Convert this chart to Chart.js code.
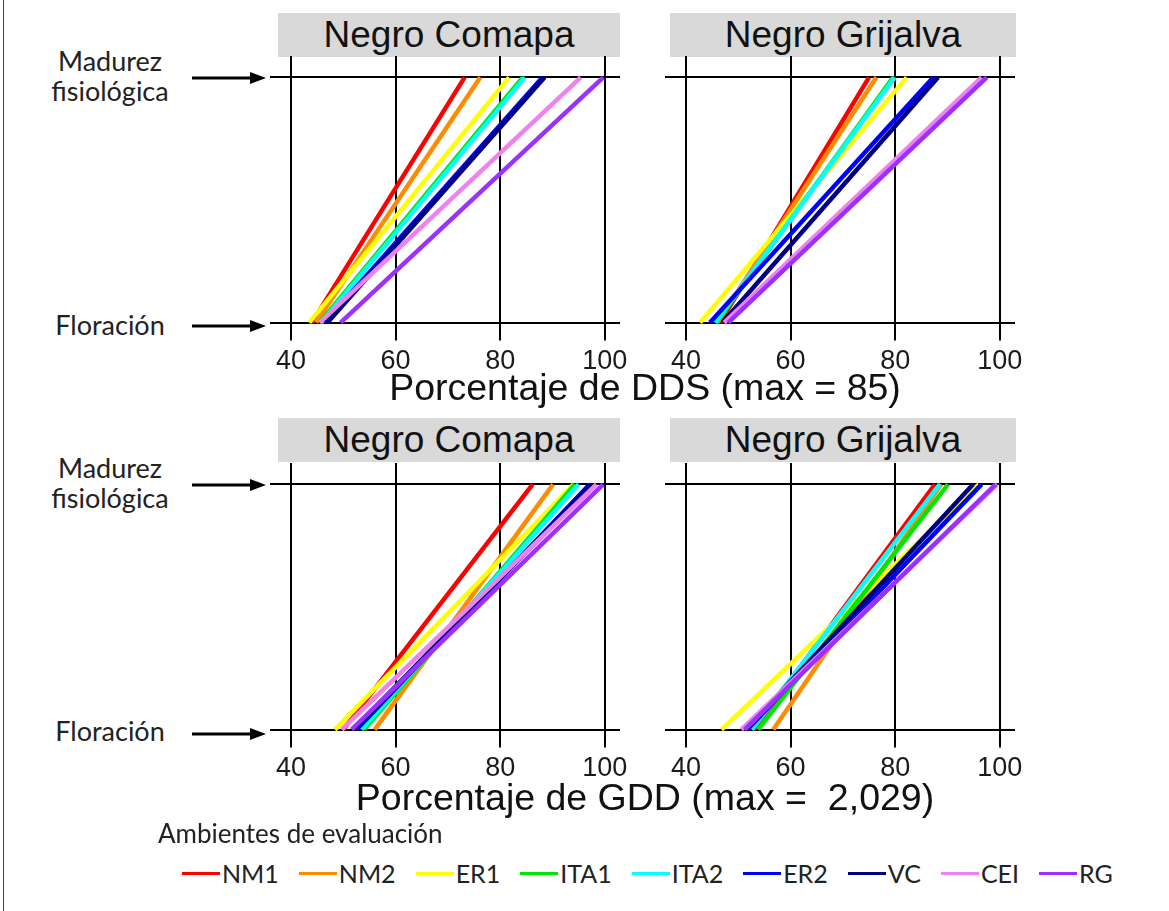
<!DOCTYPE html>
<html>
<head>
<meta charset="utf-8">
<script src="https://cdn.jsdelivr.net/npm/chart.js@4.4.1/dist/chart.umd.min.js"></script>
<style>
body { margin: 0; background: #fff; width: 1169px; height: 911px; position: relative; overflow: hidden; font-family: "Liberation Sans", Arial, sans-serif; color: #111; }
.frame { position: absolute; left: 3px; top: 0; width: 1px; height: 911px; background: #444; }
.strip { position: absolute; background: #d9d9d9; height: 44px; line-height: 44px; font-size: 37px; text-align: center; }
.stage { position: absolute; left: 40px; width: 140px; text-align: center; font-family: Lato, "Open Sans", sans-serif; font-size: 27px; line-height: 30px; color: #222; }
.xtitle { position: absolute; left: 0; width: 1290px; text-align: center; font-size: 37.5px; line-height: 40px; }
canvas { position: absolute; }
#legendTitle { position: absolute; left: 158px; top: 817px; font-family: Lato, "Open Sans", sans-serif; font-size: 26px; color: #222; }
#legend { position: absolute; left: 182px; top: 857px; display: flex; font-family: Lato, "Open Sans", sans-serif; font-size: 25px; color: #222; line-height: 32px; }
#legend .item { display: flex; align-items: center; margin-right: 20px; }
#legend .swatch { width: 38px; height: 3px; margin-right: 2px; }
</style>
</head>
<body>
<div class="frame"></div>

<div class="strip" style="left:278px;top:13px;width:342px">Negro Comapa</div>
<div class="strip" style="left:670px;top:13px;width:346px">Negro Grijalva</div>
<div class="strip" style="left:278px;top:418px;width:342px">Negro Comapa</div>
<div class="strip" style="left:670px;top:418px;width:346px">Negro Grijalva</div>

<div class="stage" style="top:46px">Madurez<br>fisiológica</div>
<div class="stage" style="top:310px">Floración</div>
<div class="stage" style="top:453px">Madurez<br>fisiológica</div>
<div class="stage" style="top:716px">Floración</div>

<svg width="1169" height="911" style="position:absolute;left:0;top:0">
  <g stroke="#000" stroke-width="3">
    <line x1="192" y1="78" x2="252" y2="78"/>
    <line x1="192" y1="326" x2="252" y2="326"/>
    <line x1="192" y1="485" x2="252" y2="485"/>
    <line x1="192" y1="734" x2="252" y2="734"/>
  </g>
  <g fill="#000">
    <polygon points="250,72 266,78 250,84"/>
    <polygon points="250,320 266,326 250,332"/>
    <polygon points="250,479 266,485 250,491"/>
    <polygon points="250,728 266,734 250,740"/>
  </g>
</svg>

<canvas id="c1" width="390" height="327" style="left:250px;top:56px"></canvas>
<canvas id="c2" width="390" height="327" style="left:645px;top:56px"></canvas>
<canvas id="c3" width="390" height="327" style="left:250px;top:463px"></canvas>
<canvas id="c4" width="390" height="327" style="left:645px;top:463px"></canvas>

<div class="xtitle" style="top:367px">Porcentaje de DDS (max = 85)</div>
<div class="xtitle" style="top:777px">Porcentaje de GDD (max =&nbsp; 2,029)</div>

<div id="legendTitle">Ambientes de evaluación</div>
<div id="legend"></div>

<script>
const envNames = ['NM1', 'NM2', 'ER1', 'ITA1', 'ITA2', 'ER2', 'VC', 'CEI', 'RG'];
const envColors = ['#ff0000', '#ff8c00', '#ffff00', '#00e600', '#00ffff', '#0000ff', '#000080', '#ee82ee', '#9b30ff'];
const xTicks = [40, 60, 80, 100];
const stageTicks = [0, 1]; // 0 = Floración, 1 = Madurez fisiológica

// Porcentaje de DDS, Negro Comapa
const ddsComapaFlor = [44.0, 44.8, 43.5, 45.5, 45.8, 46.5, 47.0, 45.5, 49.5];
const ddsComapaMad  = [73.2, 76.2, 81.7, 84.3, 84.7, 88.1, 88.5, 95.4, 99.7];
// Porcentaje de DDS, Negro Grijalva
const ddsGrijalvaFlor = [46.5, 46.0, 42.7, 45.8, 45.6, 44.6, 47.0, 47.3, 48.1];
const ddsGrijalvaMad  = [75.0, 76.4, 82.2, 79.6, 79.9, 87.3, 88.2, 96.5, 97.5];
// Porcentaje de GDD, Negro Comapa
const gddComapaFlor = [50.0, 56.0, 48.4, 54.0, 53.5, 52.5, 52.0, 49.7, 51.6];
const gddComapaMad  = [86.2, 90.1, 94.0, 94.3, 95.0, 97.1, 97.5, 98.4, 99.7];
// Porcentaje de GDD, Negro Grijalva
const gddGrijalvaFlor = [53.0, 56.7, 46.8, 53.8, 52.6, 51.7, 51.5, 50.6, 51.2];
const gddGrijalvaMad  = [87.6, 88.8, 96.0, 90.1, 88.5, 96.5, 94.9, 99.5, 99.2];

function makePanel(id, flor, mad) {
    new Chart(document.getElementById(id), {
        type: 'line',
        data: {
            datasets: envNames.map((name, i) => ({
                label: name,
                data: [{ x: flor[i], y: stageTicks[0] }, { x: mad[i], y: stageTicks[1] }],
                borderColor: envColors[i],
                borderWidth: 4.5,
                pointRadius: 0,
                order: envNames.length - i,
                clip: false
            }))
        },
        options: {
            responsive: false,
            animation: false,
            layout: { padding: { left: 20, right: 20, top: 0, bottom: 0 } },
            plugins: { legend: { display: false }, tooltip: { enabled: false } },
            scales: {
                x: {
                    type: 'linear',
                    min: 36,
                    max: 102.9,
                    afterBuildTicks: s => { s.ticks = xTicks.map(v => ({ value: v })); },
                    grid: { color: '#000', lineWidth: 2, tickLength: 18 },
                    border: { display: false },
                    ticks: { color: '#1a1a1a', padding: 5, maxRotation: 0, font: { family: 'Liberation Sans', size: 27 } }
                },
                y: {
                    type: 'linear',
                    min: 0,
                    max: 1.087,
                    afterBuildTicks: s => { s.ticks = stageTicks.map(v => ({ value: v })); },
                    grid: { color: '#000', lineWidth: 2, drawTicks: false },
                    border: { display: false },
                    ticks: { display: false }
                }
            }
        }
    });
}

makePanel('c1', ddsComapaFlor, ddsComapaMad);
makePanel('c2', ddsGrijalvaFlor, ddsGrijalvaMad);
makePanel('c3', gddComapaFlor, gddComapaMad);
makePanel('c4', gddGrijalvaFlor, gddGrijalvaMad);

// legend
const legend = document.getElementById('legend');
envNames.forEach((name, i) => {
    const item = document.createElement('div');
    item.className = 'item';
    const sw = document.createElement('span');
    sw.className = 'swatch';
    sw.style.background = envColors[i];
    const txt = document.createElement('span');
    txt.textContent = name;
    item.appendChild(sw);
    item.appendChild(txt);
    legend.appendChild(item);
});
</script>
</body>
</html>
